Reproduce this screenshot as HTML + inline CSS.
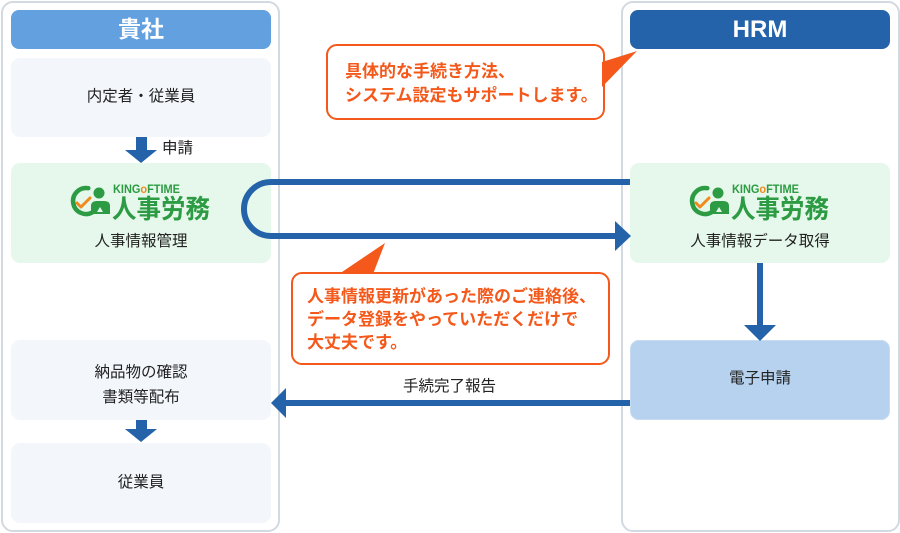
<!DOCTYPE html>
<html><head><meta charset="utf-8">
<style>
html,body{margin:0;padding:0;background:#fff;}
body{width:900px;height:533px;position:relative;overflow:hidden;font-family:"Liberation Sans","Noto Sans CJK JP",sans-serif;color:#222;}
.col{position:absolute;top:1px;width:275px;height:527px;border:2px solid #d3d9e0;border-radius:12px;box-sizing:content-box;}
.hdr{position:absolute;top:10px;width:260px;height:39px;border-radius:8px;color:#fff;font-weight:bold;font-size:23px;line-height:39px;text-align:center;}
.box{position:absolute;width:260px;border-radius:9px;text-align:center;font-size:15.5px;}
.t{position:absolute;white-space:nowrap;font-size:15.5px;line-height:20px;}
.co{position:absolute;white-space:nowrap;color:#f4581a;font-weight:bold;font-size:17px;font-family:"Liberation Sans","Noto Sans CJK JP",sans-serif;}
</style></head>
<body>
<div class="col" style="left:1px;"></div>
<div class="col" style="left:621px;"></div>

<div class="hdr" style="left:11px;background:#62a0e0;">貴社</div>
<div class="hdr" style="left:630px;background:#2463a9;font-family:'Liberation Sans',sans-serif;font-size:24px;">HRM</div>

<div class="box" style="left:11px;top:58px;height:79px;background:#f3f7fc;"></div>
<div class="box" style="left:11px;top:163px;height:100px;background:#e6f8eb;"></div>
<div class="box" style="left:11px;top:340px;height:80px;background:#f3f7fc;"></div>
<div class="box" style="left:11px;top:443px;height:80px;background:#f3f7fc;"></div>
<div class="box" style="left:630px;top:163px;height:100px;background:#e6f8eb;"></div>
<div class="box" style="left:630px;top:340px;height:80px;background:#b6d2ef;box-shadow:inset 0 0 0 1px #c6dcf2;"></div>

<svg width="900" height="533" style="position:absolute;left:0;top:0;" xmlns="http://www.w3.org/2000/svg">
  <rect x="136" y="137" width="11" height="14" fill="#2463a9"/>
  <polygon points="125,150 157,150 141,163" fill="#2463a9"/>
  <rect x="136" y="420" width="11" height="10" fill="#2463a9"/>
  <polygon points="125,429 157,429 141,442" fill="#2463a9"/>
  <rect x="757" y="263" width="6" height="64" fill="#2463a9"/>
  <polygon points="744,325 776,325 760,341" fill="#2463a9"/>
  <path d="M630,182 L271,182 A27,27 0 0 0 271,236 L616,236" fill="none" stroke="#2463a9" stroke-width="6"/>
  <polygon points="615,221 631,236 615,251" fill="#2463a9"/>
  <rect x="284" y="400" width="346" height="6" fill="#2463a9"/>
  <polygon points="286,388 271,403 286,418" fill="#2463a9"/>

  <rect x="327" y="45" width="277" height="74" rx="10" ry="10" fill="#fff" stroke="#f4581a" stroke-width="2"/>
  <polygon points="602,62 637,51 602,87" fill="#f4581a"/>
  <rect x="292" y="273" width="317" height="91" rx="10" ry="10" fill="#fff" stroke="#f4581a" stroke-width="2"/>
  <polygon points="339,274 385,243 373,274" fill="#f4581a"/>

  <g>
    <path d="M88.3,188.2 A13,13 0 1 0 92.5,212.3" fill="none" stroke="#2c9b43" stroke-width="4.5" stroke-linecap="round"/>
    <polyline points="77,203 81,207 90,198" fill="none" stroke="#f08a1c" stroke-width="3" stroke-linecap="round" stroke-linejoin="round"/>
    <circle cx="99" cy="193" r="5.5" fill="#2c9b43"/>
    <path d="M91,214 L91,206 Q91,201 97,201 L104,201 Q110,201 110,206 L110,214 Z" fill="#2c9b43"/>
    <path d="M97,212 L100,207 L103,212 Z" fill="#e6f8eb"/>
    <text x="113" y="193" font-family="Liberation Sans, sans-serif" font-weight="bold" font-size="12" fill="#2c9b43" textLength="67" lengthAdjust="spacingAndGlyphs">KING<tspan fill="#f08a1c">o</tspan>FTIME</text>
    <text x="112" y="218" font-family="Noto Sans CJK JP, sans-serif" font-weight="bold" font-size="26" fill="#2c9b43" textLength="98" lengthAdjust="spacingAndGlyphs">人事労務</text>
  </g>
  <g>
    <path d="M707.3,188.2 A13,13 0 1 0 711.5,212.3" fill="none" stroke="#2c9b43" stroke-width="4.5" stroke-linecap="round"/>
    <polyline points="696,203 700,207 709,198" fill="none" stroke="#f08a1c" stroke-width="3" stroke-linecap="round" stroke-linejoin="round"/>
    <circle cx="718" cy="193" r="5.5" fill="#2c9b43"/>
    <path d="M710,214 L710,206 Q710,201 716,201 L723,201 Q729,201 729,206 L729,214 Z" fill="#2c9b43"/>
    <path d="M716,212 L719,207 L722,212 Z" fill="#e6f8eb"/>
    <text x="732" y="193" font-family="Liberation Sans, sans-serif" font-weight="bold" font-size="12" fill="#2c9b43" textLength="67" lengthAdjust="spacingAndGlyphs">KING<tspan fill="#f08a1c">o</tspan>FTIME</text>
    <text x="731" y="218" font-family="Noto Sans CJK JP, sans-serif" font-weight="bold" font-size="26" fill="#2c9b43" textLength="98" lengthAdjust="spacingAndGlyphs">人事労務</text>
  </g>
</svg>

<div class="t" style="left:11px;width:260px;text-align:center;top:87px;">内定者・従業員</div>
<div class="t" style="left:162px;top:139px;">申請</div>
<div class="t" style="left:11px;width:260px;text-align:center;top:232px;">人事情報管理</div>
<div class="t" style="left:11px;width:260px;text-align:center;top:360px;line-height:25px;">納品物の確認<br>書類等配布</div>
<div class="t" style="left:11px;width:260px;text-align:center;top:473px;">従業員</div>
<div class="t" style="left:630px;width:260px;text-align:center;top:232px;">人事情報データ取得</div>
<div class="t" style="left:630px;width:260px;text-align:center;top:369px;">電子申請</div>
<div class="t" style="left:403px;top:377px;">手続完了報告</div>

<div class="co" style="left:345px;top:60px;line-height:24px;">具体的な手続き方法、<br>システム設定もサポートします。</div>
<div class="co" style="left:307px;top:285px;line-height:23px;">人事情報更新があった際のご連絡後、<br>データ登録をやっていただくだけで<br>大丈夫です。</div>
</body></html>
